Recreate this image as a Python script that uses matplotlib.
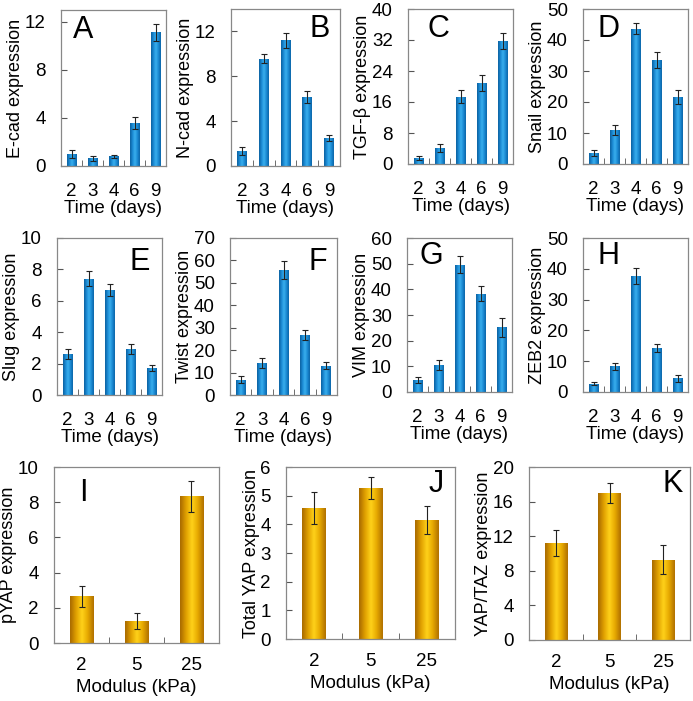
import numpy as np
import matplotlib
matplotlib.use("Agg")
import matplotlib.pyplot as plt
from matplotlib.colors import LinearSegmentedColormap

plt.rcParams['font.family'] = ['Liberation Sans', 'DejaVu Sans']

days = ['2', '3', '4', '6', '9']
modulus = ['2', '5', '25']

# panel A-H: time course
ecad = [1.0, 0.65, 0.82, 3.6, 11.15]
ecad_err = [0.3, 0.2, 0.12, 0.5, 0.7]
ncad = [1.35, 9.55, 11.2, 6.15, 2.5]
ncad_err = [0.35, 0.4, 0.7, 0.5, 0.25]
tgfb = [1.5, 4.1, 17.4, 20.9, 31.8]
tgfb_err = [0.5, 1.0, 1.6, 2.1, 2.1]
snail = [3.6, 11.0, 43.6, 33.5, 21.6]
snail_err = [0.9, 1.7, 1.8, 2.6, 2.2]
slug = [2.6, 7.42, 6.69, 2.92, 1.72]
slug_err = [0.3, 0.5, 0.4, 0.3, 0.2]
twist = [6.9, 14.3, 55.9, 26.7, 13.0]
twist_err = [1.5, 2.1, 4.0, 2.1, 1.5]
vim = [4.7, 10.4, 49.6, 38.3, 25.2]
vim_err = [1.1, 1.9, 3.2, 3.0, 3.6]
zeb2 = [2.7, 8.4, 37.8, 14.3, 4.5]
zeb2_err = [0.5, 1.1, 2.6, 1.3, 1.1]

# panel I-K: substrate modulus
pyap = [2.65, 1.23, 8.33]
pyap_err = [0.58, 0.46, 0.88]
tyap = [4.57, 5.27, 4.16]
tyap_err = [0.55, 0.38, 0.49]
yaptaz = [11.2, 17.0, 9.3]
yaptaz_err = [1.5, 1.2, 1.7]

blue = LinearSegmentedColormap.from_list(
    'b', ['#0b5f9e', '#1a8ad4', '#3bb0ee', '#1a8ad4', '#0b64a6'])
gold = LinearSegmentedColormap.from_list(
    'g', ['#a86a00', '#e0a000', '#ffd21a', '#e6a800', '#b07000'])

W, H = 693, 701
FS = 13.5


def make_ax(x0, x1, y0, y1):
    return plt.gcf().add_axes([x0 / W, 1 - y1 / H, (x1 - x0) / W, (y1 - y0) / H])


def panel(ax, cats, vals, errs, ymax, yticks, ylabel, xlabel, letter, lpos,
          cmap, width, xpad, xlpad):
    x = np.arange(len(cats))
    bars = ax.bar(x, vals, width=width, color='none', edgecolor='none', zorder=2)
    grad = np.linspace(0, 1, 64).reshape(1, -1)
    for b in bars:
        bx, bw, bh = b.get_x(), b.get_width(), b.get_height()
        im = ax.imshow(grad, cmap=cmap, extent=[bx, bx + bw, 0, bh],
                       aspect='auto', zorder=2, interpolation='bicubic')
        im.set_clip_path(b)
    ax.errorbar(x, vals, yerr=errs, fmt='none', ecolor='#222222',
                elinewidth=0.8, capsize=2.2, capthick=0.8, zorder=3)
    ax.set_xlim(-0.5, len(cats) - 0.5)
    ax.set_ylim(0, ymax)
    ax.set_yticks(yticks)
    ax.set_xticks(x)
    ax.set_xticklabels(cats)
    ax.set_xticks(x[:-1] + 0.5, minor=True)
    ax.tick_params(axis='x', which='major', length=0, labelsize=FS, pad=xpad)
    ax.tick_params(axis='x', which='minor', direction='in', length=4,
                   color='#555555')
    ax.tick_params(axis='y', direction='in', length=4, labelsize=FS,
                   pad=11, color='#555555')
    for s in ax.spines.values():
        s.set_color('#888888')
        s.set_linewidth(0.9)
    ax.set_ylabel(ylabel, fontsize=13, labelpad=0.5)
    ax.set_xlabel(xlabel, fontsize=FS, labelpad=xlpad)
    ax.text(lpos[0], lpos[1], letter, transform=ax.transAxes, fontsize=22,
            ha='center', va='center')


fig = plt.figure(figsize=(W / 100, H / 100), dpi=100)

t = 'Time (days)'
m = 'Modulus (kPa)'
panel(make_ax(61, 166, 10, 166), days, ecad, ecad_err, 13, [0, 4, 8, 12],
      'E-cad expression', t, 'A', (0.21, 0.87), blue, 0.45, 12, 0)
panel(make_ax(231, 340, 9, 166), days, ncad, ncad_err, 14, [0, 4, 8, 12],
      'N-cad expression', t, 'B', (0.81, 0.87), blue, 0.45, 12, 0)
panel(make_ax(408, 513, 9, 164), days, tgfb, tgfb_err, 40, range(0, 41, 8),
      'TGF-β expression', t, 'C', (0.29, 0.87), blue, 0.45, 12, 0)
panel(make_ax(583, 688, 9, 164), days, snail, snail_err, 50, range(0, 51, 10),
      'Snail expression', t, 'D', (0.24, 0.87), blue, 0.45, 12, 0)
panel(make_ax(57, 162, 238, 395), days, slug, slug_err, 10, range(0, 11, 2),
      'Slug expression', t, 'E', (0.79, 0.85), blue, 0.45, 12, 0)
panel(make_ax(230, 337, 238, 395), days, twist, twist_err, 70, range(0, 71, 10),
      'Twist expression', t, 'F', (0.82, 0.85), blue, 0.45, 12, 0)
panel(make_ax(407, 512, 238, 392), days, vim, vim_err, 60, range(0, 61, 10),
      'VIM expression', t, 'G', (0.23, 0.88), blue, 0.45, 12, 0)
panel(make_ax(583, 688, 238, 392), days, zeb2, zeb2_err, 50, range(0, 51, 10),
      'ZEB2 expression', t, 'H', (0.24, 0.88), blue, 0.45, 12, 0)
panel(make_ax(54, 219, 467, 643), modulus, pyap, pyap_err, 10, range(0, 11, 2),
      'pYAP expression', m, 'I', (0.175, 0.85), gold, 0.42, 10, 4)
panel(make_ax(286, 455, 467, 639), modulus, tyap, tyap_err, 6, range(0, 7),
      'Total YAP expression', m, 'J', (0.89, 0.9), gold, 0.42, 10, 4)
panel(make_ax(529, 690, 467, 640), modulus, yaptaz, yaptaz_err, 20, range(0, 21, 4),
      'YAP/TAZ expression', m, 'K', (0.89, 0.9), gold, 0.42, 10, 4)

fig.savefig('out.png', dpi=100)
